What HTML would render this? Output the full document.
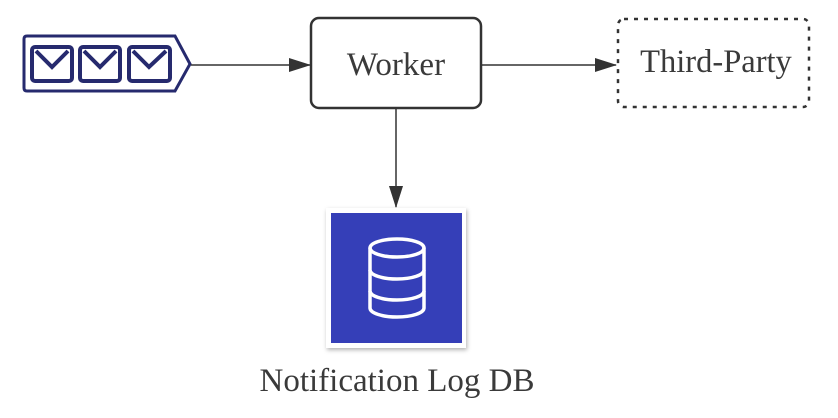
<!DOCTYPE html>
<html><head><style>body{margin:0;background:#fff}svg{display:block}</style></head><body>
<svg width="838" height="418" viewBox="0 0 838 418" xmlns="http://www.w3.org/2000/svg">
<defs>
<marker id="a" markerWidth="22" markerHeight="16" refX="21" refY="8" orient="auto" markerUnits="userSpaceOnUse"><path d="M0,1 L22,8 L0,15 z" fill="#333"/></marker>
<filter id="s" x="-10%" y="-10%" width="130%" height="130%"><feDropShadow dx="1" dy="2" stdDeviation="2" flood-opacity="0.3"/></filter>
</defs>
<!-- queue -->
<path d="M27,36 H175 L190,64 L175,91 H27 Q24,91 24,88 V39 Q24,36 27,36 Z" fill="#fff" stroke="#262a6e" stroke-width="3"/>
<g fill="none" stroke="#262a6e" stroke-width="4">
<rect x="32" y="47" width="40" height="34" rx="3"/><path d="M36,51 L52,67 L68,51"/>
<rect x="80" y="47" width="40" height="34" rx="3"/><path d="M84,51 L100,67 L116,51"/>
<rect x="129" y="47" width="41" height="34" rx="3"/><path d="M133,51 L149,67 L166,51"/>
</g>
<!-- arrows -->
<g stroke="#333" stroke-width="1.5" fill="none">
<line x1="191" y1="65" x2="310" y2="65" marker-end="url(#a)"/>
<line x1="482" y1="65" x2="616" y2="65" marker-end="url(#a)"/>
<line x1="396" y1="109" x2="396" y2="207" marker-end="url(#a)"/>
</g>
<!-- worker -->
<rect x="311" y="18" width="170" height="90" rx="8" fill="#fff" stroke="#333" stroke-width="2.5"/>
<text x="396" y="75" text-anchor="middle" font-family="Liberation Serif, serif" font-size="33" fill="#3a3a3a">Worker</text>
<!-- third party -->
<rect x="618" y="19" width="191" height="88" rx="6" fill="#fff" stroke="#333" stroke-width="2.5" stroke-dasharray="4,6"/>
<text x="716" y="72" text-anchor="middle" font-family="Liberation Serif, serif" font-size="32.5" fill="#3a3a3a">Third-Party</text>
<!-- db -->
<rect x="326" y="208" width="140" height="140" fill="#fff" filter="url(#s)"/>
<rect x="331" y="213" width="131" height="130" fill="#353fb8"/>
<g fill="none" stroke="#fff" stroke-width="3.5">
<ellipse cx="397" cy="248" rx="27" ry="9"/>
<path d="M370,248 V308 A27,9 0 0 0 424,308 V248"/>
<path d="M370,270 A27,9 0 0 0 424,270"/>
<path d="M370,291 A27,9 0 0 0 424,291"/>
</g>
<text x="397" y="391" text-anchor="middle" font-family="Liberation Serif, serif" font-size="33" fill="#3a3a3a">Notification Log DB</text>
</svg>
</body></html>
